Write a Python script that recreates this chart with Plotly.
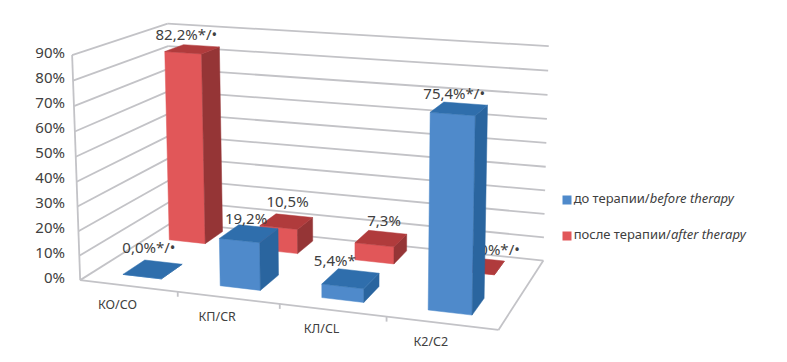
import numpy as np
import plotly.graph_objects as go

categories = ["КО/СО", "КП/CR", "КЛ/CL", "К2/С2"]
series_names = ["до терапии/<i>before therapy</i>", "после терапии/<i>after therapy</i>"]
before_values = [0.0, 19.2, 5.4, 75.4]
after_values = [82.2, 10.5, 7.3, 0.0]
before_marks = ["*/•", "", "*", "*/•"]
after_marks = ["*/•", "", "", "*/•"]
axis_ticks = list(range(0, 100, 10))

# Camera of the 3D view: (category, depth, percent) -> page pixel, calibrated on frame and bar corners
frame = [((0,0,0),(80,278)),((1,0,0),(178,290)),((2,0,0),(278,303)),((3,0,0),(385,317)),((4,0,0),(500,330)),
         ((4,1,0),(545,258)),((0,1,0),(173,227)),((0,0,90),(72,53)),((0,1,90),(168,23)),((4,1,90),(546,44)),
         ((4,1,50),(546,142)),
         ((3.3,.14,75.4),(432,116)),((3.7,.14,75.4),(477,119)),((3.3,.14,0),(427,310)),((3.7,.14,0),(472,316))]
rows, rhs = [], []
for (c, d, z), (px, py) in frame:
    rows.append([c,d,z,1,0,0,0,0,-px*c,-px*d,-px*z]); rhs.append(px)
    rows.append([0,0,0,0,c,d,z,1,-py*c,-py*d,-py*z]); rhs.append(py)
P = np.append(np.linalg.lstsq(np.array(rows,float), np.array(rhs,float), rcond=None)[0], 1).reshape(3,4)

PX_PER_PCT = 2.5
BASE_PX = 278
def project(c, d, z):
    u = P @ np.array([c, d, z, 1.0])
    return float(u[0]/u[2]), float((BASE_PX - u[1]/u[2]) / PX_PER_PCT)

BEFORE_INSET = (0.30, 0.30)
AFTER_INSET = (0.24, 0.36)
BEFORE_DEPTH = (0.14, 0.37)
AFTER_DEPTH = (0.71, 0.93)
BEFORE_NUDGE = [(-1, -7), (0, 0), (-13, -3), (-2, 0)]
AFTER_NUDGE = [(-3, 0), (4, -5), (6, -3), (17, -1)]

def polys(values, depth, inset, face):
    xs, ys = [], []
    d0, d1 = depth
    for i, v in enumerate(values):
        c0, c1 = i + inset[0], i + 1 - inset[1]
        if face == "front":
            q = [(c0,d0,0),(c1,d0,0),(c1,d0,v),(c0,d0,v)]
        elif face == "side":
            q = [(c1,d0,0),(c1,d1,0),(c1,d1,v),(c1,d0,v)]
        else:
            q = [(c0,d0,v),(c1,d0,v),(c1,d1,v),(c0,d1,v)]
        pts = [project(*p) for p in q]
        xs += [p[0] for p in pts] + [pts[0][0], None]
        ys += [p[1] for p in pts] + [pts[0][1], None]
    return xs, ys

def bar_traces(values, depth, inset, colors):
    out = []
    for face in ("front", "side", "top"):
        x, y = polys(values, depth, inset, face)
        out.append(go.Scatter(x=x, y=y, mode="lines", fill="toself", fillcolor=colors[face],
                              line=dict(color=colors[face], width=0.5), hoverinfo="skip", showlegend=False))
    return out

BLUE = dict(front="#4F8ACB", side="#2A659F", top="#2F6EAC")
RED = dict(front="#E15759", side="#953536", top="#B03B3C")
GRID = "#C3C3C7"
INK = "#404040"
FONT = "Noto Sans"

fig = go.Figure()
gx, gy = [], []
for z in axis_ticks:
    for a, b in [((0,0,z),(0,1,z)), ((0,1,z),(4,1,z))]:
        p, q = project(*a), project(*b)
        gx += [p[0], q[0], None]; gy += [p[1], q[1], None]
for a, b in [((0,0,0),(0,0,90)), ((0,0,0),(4,0,0)), ((4,0,0),(4,1,0))]:
    p, q = project(*a), project(*b)
    gx += [p[0], q[0], None]; gy += [p[1], q[1], None]
for i in range(1, 4):
    p = project(i, 0, 0)
    gx += [p[0], p[0], None]; gy += [p[1], p[1] - 5/PX_PER_PCT, None]
fig.add_trace(go.Scatter(x=gx, y=gy, mode="lines", line=dict(color=GRID, width=1.8), hoverinfo="skip", showlegend=False))

def label(values, marks):
    return [f"{v:.1f}".replace(".", ",") + "%" + m for v, m in zip(values, marks)]

def label_trace(values, marks, depth, inset, nudge, idx):
    tx, ty, tt = [], [], []
    texts = label(values, marks)
    for i in idx:
        x, y = project(i + 0.5 + (inset[0]-inset[1])/2, sum(depth)/2, values[i])
        tx.append(x - 3 + nudge[i][0]); ty.append(y + (13 - nudge[i][1])/PX_PER_PCT); tt.append(texts[i])
    return go.Scatter(x=tx, y=ty, text=tt, mode="text", textposition="middle center",
                      textfont=dict(family=FONT, size=15, color=INK), hoverinfo="skip", showlegend=False)

fig.add_traces(bar_traces(after_values, AFTER_DEPTH, AFTER_INSET, RED))
fig.add_trace(label_trace(after_values, after_marks, AFTER_DEPTH, AFTER_INSET, AFTER_NUDGE, [3]))
fig.add_traces(bar_traces(before_values, BEFORE_DEPTH, BEFORE_INSET, BLUE))
fig.add_trace(label_trace(after_values, after_marks, AFTER_DEPTH, AFTER_INSET, AFTER_NUDGE, [0, 1, 2]))
fig.add_trace(label_trace(before_values, before_marks, BEFORE_DEPTH, BEFORE_INSET, BEFORE_NUDGE, [0, 1, 2, 3]))

cat_pts = [project(i + 0.5, 0, 0) for i in range(4)]
fig.add_trace(go.Scatter(x=[p[0] - 11 for p in cat_pts], y=[p[1] - 20/PX_PER_PCT for p in cat_pts], text=categories,
                         mode="text", textposition="middle center",
                         textfont=dict(family=FONT, size=12.5, color=INK), hoverinfo="skip", showlegend=False))

legend_x = [567, 567]
legend_y = [(BASE_PX - 200)/PX_PER_PCT, (BASE_PX - 236)/PX_PER_PCT]
for xv, yv, name, col in zip(legend_x, legend_y, series_names, [BLUE["front"], RED["front"]]):
    fig.add_trace(go.Scatter(x=[xv], y=[yv], text=[name], mode="markers+text", textposition="middle right",
                             marker=dict(symbol="square", size=9, color=col),
                             textfont=dict(family=FONT, size=13, color=INK), hoverinfo="skip", showlegend=False))

fig.update_layout(
    width=787, height=362, margin=dict(l=66, r=0, t=0, b=0),
    paper_bgcolor="white", plot_bgcolor="white", showlegend=False,
    font=dict(family=FONT, color=INK),
    xaxis=dict(range=[66, 787], visible=False, fixedrange=True),
    yaxis=dict(range=[(BASE_PX - 362)/PX_PER_PCT, BASE_PX/PX_PER_PCT], tickmode="array",
               tickvals=axis_ticks, ticktext=[f"{t}%" for t in axis_ticks], showgrid=False, zeroline=False,
               showline=False, ticks="", tickfont=dict(family=FONT, size=15, color=INK), fixedrange=True),
)
fig.write_html("out.html", config=dict(displayModeBar=False),
               post_script="document.body.style.margin='0';document.documentElement.style.overflow='hidden';")
